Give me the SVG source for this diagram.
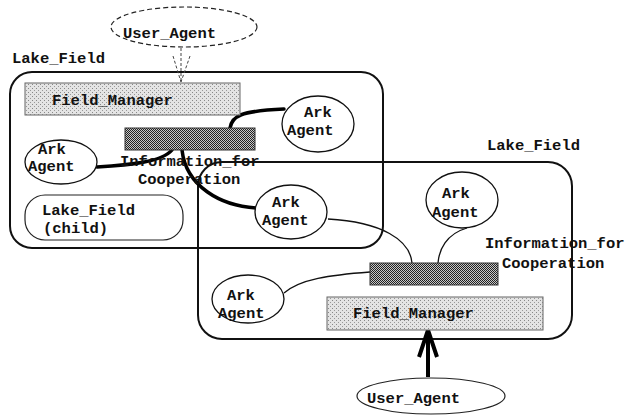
<svg xmlns="http://www.w3.org/2000/svg" width="626" height="416" viewBox="0 0 626 416">
  <style>
    text { font-family: "Liberation Mono", "DejaVu Sans Mono", monospace; font-size: 15.5px; font-weight: bold; fill: #111; }
    .field { fill: none; stroke: #111; stroke-width: 2; }
    .agent { fill: #fff; stroke: #111; stroke-width: 1.3; }
    .user { fill: #fff; stroke: #222; stroke-width: 1.2; }
    .fm { fill: url(#stipple); stroke: #666; stroke-width: 1; }
    .info { fill: url(#hatch); stroke: #333; stroke-width: 1; }
    .thick { fill: none; stroke: #000; stroke-width: 3.5; stroke-linecap: round; }
    .thin { fill: none; stroke: #111; stroke-width: 1.3; }
    .dash { fill: none; stroke: #444; stroke-width: 1; stroke-dasharray: 3 2; }
  </style>
  <defs>
    <pattern id="stipple" width="4" height="4" patternUnits="userSpaceOnUse">
      <rect width="4" height="4" fill="#e4e4e4"/>
      <rect x="0" y="0" width="1" height="1" fill="#888"/>
      <rect x="2" y="2" width="1" height="1" fill="#999"/>
    </pattern>
    <pattern id="hatch" width="2" height="2" patternUnits="userSpaceOnUse">
      <rect width="2" height="2" fill="#c8c8c8"/>
      <rect x="0" y="0" width="1" height="1" fill="#222"/>
      <rect x="1" y="1" width="1" height="1" fill="#222"/>
    </pattern>
  </defs>

  <!-- field boundaries -->
  <g id="lake-field-1">
    <rect class="field" x="10" y="72" width="373" height="176" rx="22"/>
    <text x="12" y="63">Lake_Field</text>
  </g>
  <g id="lake-field-2">
    <rect class="field" x="198" y="162" width="374" height="177" rx="24"/>
    <text x="487" y="150">Lake_Field</text>
  </g>

  <!-- connectors -->
  <g id="connectors">
    <!-- user agent to field manager (dashed) -->
    <path class="dash" d="M181,48 V83 M173,56 L181,82 M190,56 L181,82"/>
    <!-- thick links in the first field -->
    <path class="thick" d="M230,128 C232,116 240,111 284,109"/>
    <path class="thick" d="M97,167 C130,165 162,162 172,150"/>
    <path class="thick" d="M182,150 C186,186 220,206 257,208"/>
    <!-- thin links in the second field -->
    <path class="thin" d="M328,219 C382,222 410,240 412,263"/>
    <path class="thin" d="M467,228 C446,234 439,250 438,263"/>
    <path class="thin" d="M284,293 C300,279 330,275 370,272"/>
    <!-- user agent to field manager (solid) -->
    <path fill="none" stroke="#000" stroke-width="4" d="M428,377 V331 M419,357 L428,330 L437,357"/>
  </g>

  <!-- first field contents -->
  <g id="field-manager-1">
    <rect class="fm" x="25" y="83" width="215" height="32"/>
    <text x="52" y="105">Field_Manager</text>
  </g>
  <g id="info-1">
    <rect class="info" x="125" y="128" width="130" height="22"/>
    <text x="120" y="166">Information_for</text>
    <text x="138" y="184">Cooperation</text>
  </g>
  <g id="ark-agent-1">
    <ellipse class="agent" cx="61" cy="162" rx="36" ry="22"/>
    <text x="38" y="154">Ark</text>
    <text x="28" y="171">Agent</text>
  </g>
  <g id="ark-agent-2">
    <ellipse class="agent" cx="318" cy="124" rx="36" ry="28"/>
    <text x="304" y="117">Ark</text>
    <text x="287" y="135">Agent</text>
  </g>
  <g id="lake-field-child">
    <rect fill="none" stroke="#222" stroke-width="1.2" x="25" y="195" width="158" height="45" rx="20"/>
    <text x="42" y="215">Lake_Field</text>
    <text x="43" y="233">(child)</text>
  </g>

  <!-- second field contents -->
  <g id="ark-agent-3">
    <ellipse class="agent" cx="291" cy="212" rx="36" ry="27"/>
    <text x="272" y="207">Ark</text>
    <text x="262" y="225">Agent</text>
  </g>
  <g id="ark-agent-4">
    <ellipse class="agent" cx="462" cy="200" rx="36" ry="28"/>
    <text x="442" y="198">Ark</text>
    <text x="432" y="217">Agent</text>
  </g>
  <g id="info-2">
    <rect class="info" x="370" y="263" width="128" height="22"/>
    <text x="485" y="248">Information_for</text>
    <text x="502" y="268">Cooperation</text>
  </g>
  <g id="ark-agent-5">
    <ellipse class="agent" cx="248" cy="299" rx="36" ry="24"/>
    <text x="227" y="300">Ark</text>
    <text x="218" y="318">Agent</text>
  </g>
  <g id="field-manager-2">
    <rect class="fm" x="327" y="297" width="216" height="33"/>
    <text x="353" y="318">Field_Manager</text>
  </g>

  <!-- user agents -->
  <g id="user-agent-1">
    <ellipse class="user" cx="184" cy="27" rx="73" ry="20" stroke-dasharray="5 3"/>
    <text x="123" y="38">User_Agent</text>
  </g>
  <g id="user-agent-2">
    <ellipse class="user" cx="431" cy="396" rx="74" ry="18"/>
    <text x="367" y="403">User_Agent</text>
  </g>
</svg>
